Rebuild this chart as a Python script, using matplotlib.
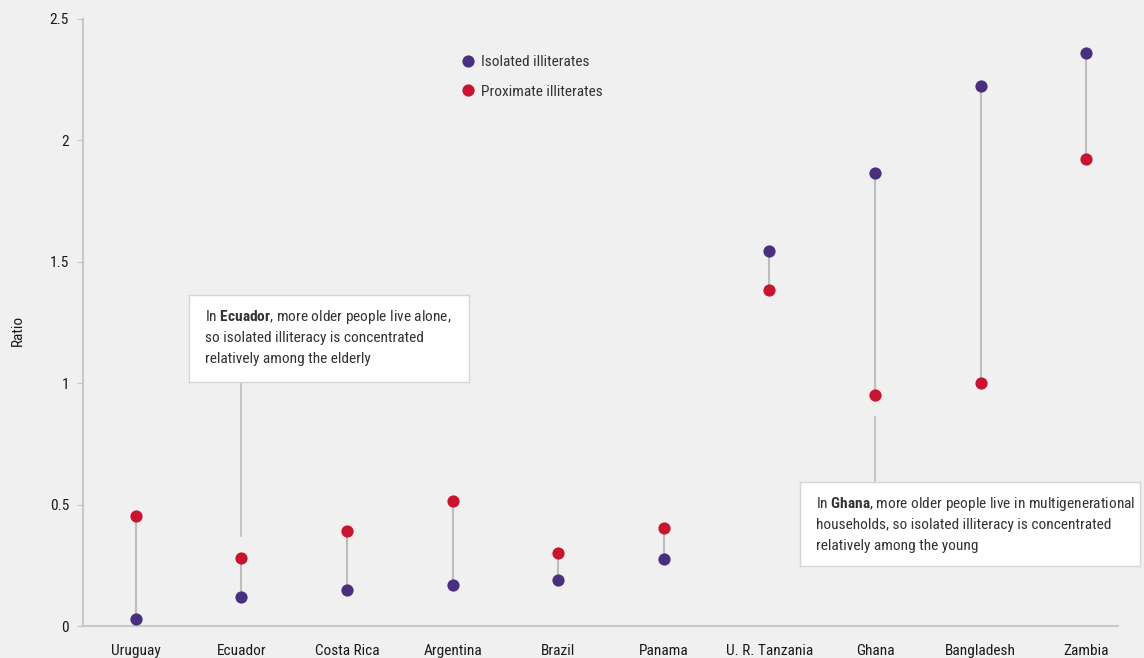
import matplotlib
matplotlib.use("Agg")
import matplotlib.pyplot as plt
from matplotlib import font_manager

names = {f.name for f in font_manager.fontManager.ttflist}
STRETCH = "normal"
FONT = None
for cand in ["Ubuntu Condensed", "Roboto Condensed", "Encode Sans Condensed",
             "Fira Sans Condensed", "PT Sans Narrow", "Liberation Sans Narrow"]:
    if cand in names:
        FONT = cand
        break
if FONT is None:
    FONT = "Open Sans"
    STRETCH = "condensed"
plt.rcParams['font.family'] = [FONT, 'DejaVu Sans']
plt.rcParams['font.stretch'] = STRETCH
plt.rcParams['mathtext.fontset'] = 'custom'
plt.rcParams['mathtext.bf'] = f'{FONT}:bold'
plt.rcParams['mathtext.rm'] = f'{FONT}'

countries = ["Uruguay", "Ecuador", "Costa Rica", "Argentina", "Brazil", "Panama",
             "U. R. Tanzania", "Ghana", "Bangladesh", "Zambia"]
isolated = [0.03, 0.12, 0.15, 0.17, 0.19, 0.275, 1.545, 1.865, 2.225, 2.36]
proximate = [0.455, 0.28, 0.39, 0.515, 0.30, 0.405, 1.385, 0.95, 1.0, 1.925]
yticks = [0, 0.5, 1, 1.5, 2, 2.5]
ytick_labels = ["0", "0.5", "1", "1.5", "2", "2.5"]

PURPLE = "#48307f"
RED = "#c8152f"
BG = "#f0f0f0"
GRID = "#c8c8c8"
FS = 11.1

W, H = 1144, 658
fig = plt.figure(figsize=(W / 100, H / 100), dpi=100, facecolor=BG)
ax = fig.add_axes([83 / W, (H - 626) / H, (1118 - 83) / W, (626 - 19) / H])
ax.set_facecolor(BG)

x = list(range(len(countries)))
for xi, a, b in zip(x, isolated, proximate):
    ax.plot([xi, xi], [a, b], color="#bdbdbd", lw=1.5, zorder=1, solid_capstyle="butt")
ax.plot(x, isolated, "o", color=PURPLE, ms=8.8, zorder=3, label="Isolated illiterates", mec="none")
ax.plot(x, proximate, "o", color=RED, ms=8.8, zorder=3, label="Proximate illiterates", mec="none")

ax.set_xlim(-0.5, 9.3)
ax.set_ylim(0, 2.5)
ax.set_xticks(x)
ax.set_xticklabels(countries, fontsize=FS, color="#1a1a1a")
ax.set_yticks(yticks)
ax.set_yticklabels(ytick_labels, fontsize=FS, color="#1a1a1a")
ax.tick_params(axis="x", length=0, pad=13)
ax.tick_params(axis="y", length=4, color=GRID, width=1, pad=6)
for s in ["top", "right"]:
    ax.spines[s].set_visible(False)
ax.spines["left"].set_color(GRID)
ax.spines["bottom"].set_color(GRID)
ax.spines["left"].set_linewidth(1.5)
ax.spines["bottom"].set_linewidth(1.5)

fig.text(18 / W, 1 - 330 / H, "Ratio", rotation=90, ha="center", va="center",
         fontsize=FS, color="#1a1a1a")

# legend
leg = ax.legend(loc="upper left", bbox_to_anchor=((453 - 83) / (1118 - 83), 1 - (49 - 19) / (626 - 19)),
                frameon=False, fontsize=FS, handletextpad=0.2, labelspacing=1.0,
                borderaxespad=0, handlelength=1.2)
for t in leg.get_texts():
    t.set_color("#333333")

# annotation leader lines
ax.plot([1, 1], [0.37, 1.0], color="#bdbdbd", lw=1.2, zorder=1)
ax.plot([7, 7], [0.49, 0.86], color="#bdbdbd", lw=1.2, zorder=1)

def box(x0, y0, x1, y1, lines):
    bx = fig.add_axes([x0 / W, 1 - y1 / H, (x1 - x0) / W, (y1 - y0) / H])
    bx.set_xlim(0, 1); bx.set_ylim(0, 1)
    bx.set_xticks([]); bx.set_yticks([])
    bx.set_facecolor("white")
    for s in bx.spines.values():
        s.set_color("#d6d6d6")
        s.set_linewidth(1)
    h = y1 - y0
    for i, line in enumerate(lines):
        bx.text(16 / (x1 - x0), 1 - (22 + i * 21) / h, line, fontsize=FS,
                color="#333333", va="center", ha="left")

box(189, 295, 469, 382, [r"In $\mathbf{Ecuador}$, more older people live alone,",
                         "so isolated illiteracy is concentrated",
                         "relatively among the elderly"])
box(800, 482, 1140, 566, [r"In $\mathbf{Ghana}$, more older people live in multigenerational",
                          "households, so isolated illiteracy is concentrated",
                          "relatively among the young"])

fig.savefig("out.png", dpi=100, facecolor=BG)
